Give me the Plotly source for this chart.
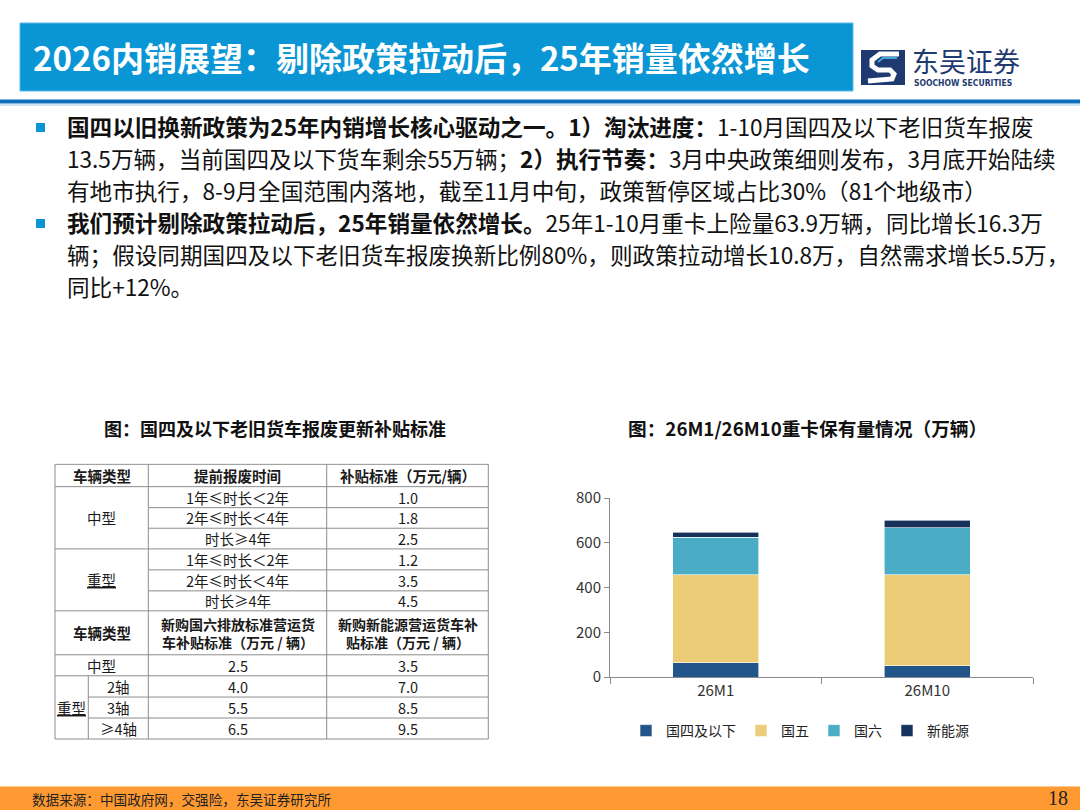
import plotly.graph_objects as go

# ---- chart data ----
bar_periods = ["26M1", "26M10"]
series_names = ["国四及以下", "国五", "国六", "新能源"]
stock_gb4 = [64, 50]
stock_gb5 = [392, 408]
stock_gb6 = [169, 210]
stock_nev = [21, 32]
series_colors = ["#22558A", "#EDCC78", "#4BACC6", "#16325A"]

# ---- table data ----
scrap_head = ["车辆类型", "提前报废时间", "补贴标准（万元/辆）"]
scrap_types = ["中型", "重型"]
scrap_periods = ["1年≤时长＜2年", "2年≤时长＜4年", "时长≥4年"]
scrap_mid = [1.0, 1.8, 2.5]
scrap_heavy = [1.2, 3.5, 4.5]
new_head = ["车辆类型", "新购国六排放标准营运货<br>车补贴标准（万元 / 辆）",
            "新购新能源营运货车补<br>贴标准（万元 / 辆）"]
new_types = ["中型", "重型"]
new_axles = ["2轴", "3轴", "≥4轴"]
new_gb6 = [2.5, 4.0, 5.5, 6.5]
new_nev = [3.5, 7.0, 8.5, 9.5]

W, H = 1080, 810
FONT = "Noto Sans CJK SC"


def px(x):
    return x / W


def py(y):
    return 1 - y / H


fig = go.Figure()

# stacked bars
for name, vals, col in zip(series_names, [stock_gb4, stock_gb5, stock_gb6, stock_nev], series_colors):
    fig.add_trace(go.Bar(x=bar_periods, y=vals, name=name, marker_color=col,
                         marker_line=dict(color="white", width=0.6),
                         xaxis="x", yaxis="y"))

# invisible trace so the table axes exist
fig.add_trace(go.Scatter(x=[0], y=[0], xaxis="x2", yaxis="y2", mode="markers",
                         marker=dict(opacity=0), showlegend=False, hoverinfo="skip"))

shapes = []
ann = []

# ---- table (drawn on its own axes) ----
cx = [0, 33.3, 93.3, 271.7, 433.3]
ry = [0, 22.4, 43.4, 64, 84.7, 105.7, 126.7, 146.7, 190.7, 211.7, 233, 254, 275]
line_col = "#8C8C8C"


def hline(i, x0, x1):
    shapes.append(dict(type="line", xref="x2", yref="y2", x0=x0, x1=x1, y0=ry[i], y1=ry[i],
                       line=dict(color=line_col, width=1)))


def vline(x, i0, i1):
    shapes.append(dict(type="line", xref="x2", yref="y2", x0=x, x1=x, y0=ry[i0], y1=ry[i1],
                       line=dict(color=line_col, width=1)))


for i in [0, 1, 4, 7, 8, 9, 12]:
    hline(i, cx[0], cx[4])
for i in [2, 3, 5, 6]:
    hline(i, cx[2], cx[4])
for i in [10, 11]:
    hline(i, cx[1], cx[4])
for x in [cx[0], cx[2], cx[3], cx[4]]:
    vline(x, 0, 12)
vline(cx[1], 9, 12)


def cell(text, c0, c1, r0, r1, bold=False, size=14.5):
    t = "<b>%s</b>" % text.replace("<br>", "</b><br><b>") if bold else text
    ann.append(dict(xref="x2", yref="y2", x=(cx[c0] + cx[c1]) / 2, y=(ry[r0] + ry[r1]) / 2,
                    text=t, showarrow=False, font=dict(size=size, color="#1A1A1A", family=FONT),
                    xanchor="center", yanchor="middle"))


cell(scrap_head[0], 0, 2, 0, 1, True)
cell(scrap_head[1], 2, 3, 0, 1, True)
cell(scrap_head[2], 3, 4, 0, 1, True)
for b, (typ, vals) in enumerate(zip(scrap_types, [scrap_mid, scrap_heavy])):
    r = 1 + 3 * b
    lab = "<u>%s</u>" % typ if typ == "重型" else typ
    cell(lab, 0, 2, r, r + 3)
    for k, (per, v) in enumerate(zip(scrap_periods, vals)):
        cell(per, 2, 3, r + k, r + k + 1)
        cell("%.1f" % v, 3, 4, r + k, r + k + 1)
cell(new_head[0], 0, 2, 7, 8, True)
cell(new_head[1], 2, 3, 7, 8, True, 14)
cell(new_head[2], 3, 4, 7, 8, True, 14)
cell(new_types[0], 0, 2, 8, 9)
cell("<u>%s</u>" % new_types[1], 0, 1, 9, 12)
for k, ax in enumerate(new_axles):
    cell(ax, 1, 2, 9 + k, 10 + k)
for k, (a, b) in enumerate(zip(new_gb6, new_nev)):
    cell("%.1f" % a, 2, 3, 8 + k, 9 + k)
    cell("%.1f" % b, 3, 4, 8 + k, 9 + k)

# ---- slide decoration ----
blue = "#0A95D4"
shapes += [
    dict(type="rect", xref="paper", yref="paper", x0=px(20), x1=px(853), y0=py(91), y1=py(23),
         fillcolor=blue, line=dict(color="#5BB8E6", width=1), layer="below"),
    dict(type="rect", xref="paper", yref="paper", x0=0, x1=1, y0=py(103.5), y1=py(99.5),
         fillcolor="#0A6FBF", line_width=0),
    dict(type="line", xref="paper", yref="paper", x0=0, x1=1, y0=py(105), y1=py(105),
         line=dict(color="#9CCBEB", width=1)),
    # bullets
    dict(type="rect", xref="paper", yref="paper", x0=px(36), x1=px(45), y0=py(132), y1=py(123),
         fillcolor=blue, line_width=0),
    dict(type="rect", xref="paper", yref="paper", x0=px(36), x1=px(45), y0=py(228), y1=py(219),
         fillcolor=blue, line_width=0),
    # footer
    dict(type="rect", xref="paper", yref="paper", x0=0, x1=1, y0=0, y1=py(787),
         fillcolor="#FF9A33", line_width=0),
    dict(type="line", xref="paper", yref="paper", x0=0, x1=1, y0=py(786.5), y1=py(786.5),
         line=dict(color="#FFC88F", width=1)),
    # logo icon
    dict(type="rect", xref="paper", yref="paper", x0=px(861), x1=px(905), y0=py(85), y1=py(50),
         fillcolor="#1E3A70", line_width=0),
]


def path(pts):
    s = "M %f,%f" % (px(pts[0][0]), py(pts[0][1]))
    for p in pts[1:]:
        s += " L %f,%f" % (px(p[0]), py(p[1]))
    return s


shapes.append(dict(type="path", xref="paper", yref="paper",
                   path=path([(899, 54), (880, 54), (872, 60), (872, 66), (878, 70), (890, 70),
                              (894, 74), (892, 79), (868, 81)]),
                   line=dict(color="white", width=5)))
shapes.append(dict(type="path", xref="paper", yref="paper",
                   path=path([(897, 58), (883, 58), (878, 62)]),
                   line=dict(color="#3FA7DD", width=2)))

ann += [
    dict(x=px(31), y=py(57), text="<b>2026内销展望：剔除政策拉动后，25年销量依然增长</b>",
         font=dict(size=33, color="white", family=FONT), xanchor="left", yanchor="middle"),
    dict(x=px(910), y=py(61), text="东吴证券", font=dict(size=27, color="#1E3A70", family=FONT),
         xanchor="left", yanchor="middle"),
    dict(x=px(912), y=py(83), text="<b>SOOCHOW SECURITIES</b>",
         font=dict(size=8.5, color="#1E3A70", family="DejaVu Sans Condensed"), xanchor="left", yanchor="middle"),
    dict(x=px(102), y=py(428), text="<b>图：国四及以下老旧货车报废更新补贴标准</b>",
         font=dict(size=18, color="#111", family=FONT), xanchor="left", yanchor="middle"),
    dict(x=px(626), y=py(428), text="<b>图：26M1/26M10重卡保有量情况（万辆）</b>",
         font=dict(size=18.7, color="#111", family=FONT), xanchor="left", yanchor="middle"),
    dict(x=px(30), y=py(799), text="数据来源：中国政府网，交强险，东吴证券研究所",
         font=dict(size=13.6, color="#222", family=FONT), xanchor="left", yanchor="middle"),
    dict(x=px(1070), y=py(798), text="18",
         font=dict(size=20, color="#222", family="Liberation Serif"), xanchor="right", yanchor="middle"),
]

body = [
    "<b>国四以旧换新政策为25年内销增长核心驱动之一。1）淘汰进度：</b>1-10月国四及以下老旧货车报废",
    "13.5万辆，当前国四及以下货车剩余55万辆；<b>2）执行节奏：</b>3月中央政策细则发布，3月底开始陆续",
    "有地市执行，8-9月全国范围内落地，截至11月中旬，政策暂停区域占比30%（81个地级市）",
    "<b>我们预计剔除政策拉动后，25年销量依然增长。</b>25年1-10月重卡上险量63.9万辆，同比增长16.3万",
    "辆；假设同期国四及以下老旧货车报废换新比例80%，则政策拉动增长10.8万，自然需求增长5.5万，",
    "同比+12%。",
]
for k, line in enumerate(body):
    ann.append(dict(x=px(65), y=py(127 + 31.8 * k), text=line,
                    font=dict(size=22.6, color="#111", family=FONT), xanchor="left", yanchor="middle"))

for a in ann:
    a.setdefault("xref", "paper")
    a.setdefault("yref", "paper")
    a["showarrow"] = False

fig.update_layout(
    width=W, height=H, margin=dict(l=0, r=0, t=0, b=0, pad=0, autoexpand=False),
    paper_bgcolor="white", plot_bgcolor="rgba(0,0,0,0)",
    font=dict(family=FONT, color="#333"),
    barmode="stack", bargap=0.593,
    shapes=shapes, annotations=ann,
    showlegend=True,
    legend=dict(orientation="h", x=px(800), xanchor="center", y=py(731), yanchor="middle",
                font=dict(size=14, color="#222"), traceorder="normal", itemclick=False),
    xaxis=dict(domain=[px(610), px(1033)], type="category", showline=True, linecolor="#8A8A8A",
               ticks="outside", tickson="boundaries", ticklen=6, tickcolor="#8A8A8A",
               tickfont=dict(size=15, color="#333"), showgrid=False),
    yaxis=dict(domain=[py(677), py(498)], range=[0, 800], dtick=200, showline=True,
               linecolor="#8A8A8A", ticks="outside", ticklen=5, tickcolor="#8A8A8A",
               tickfont=dict(size=15, color="#333"), showgrid=False, zeroline=False),
    xaxis2=dict(domain=[px(54), px(489.3)], range=[-1, 434.3], visible=False, fixedrange=True),
    yaxis2=dict(domain=[py(740), py(463.3)], range=[276, -1], visible=False, fixedrange=True),
)

# drop the browser's default 8px page margin so the slide sits at the window corner
fig.write_html("out.html", config={"displayModeBar": False},
               post_script="document.body.style.margin = '0';")
